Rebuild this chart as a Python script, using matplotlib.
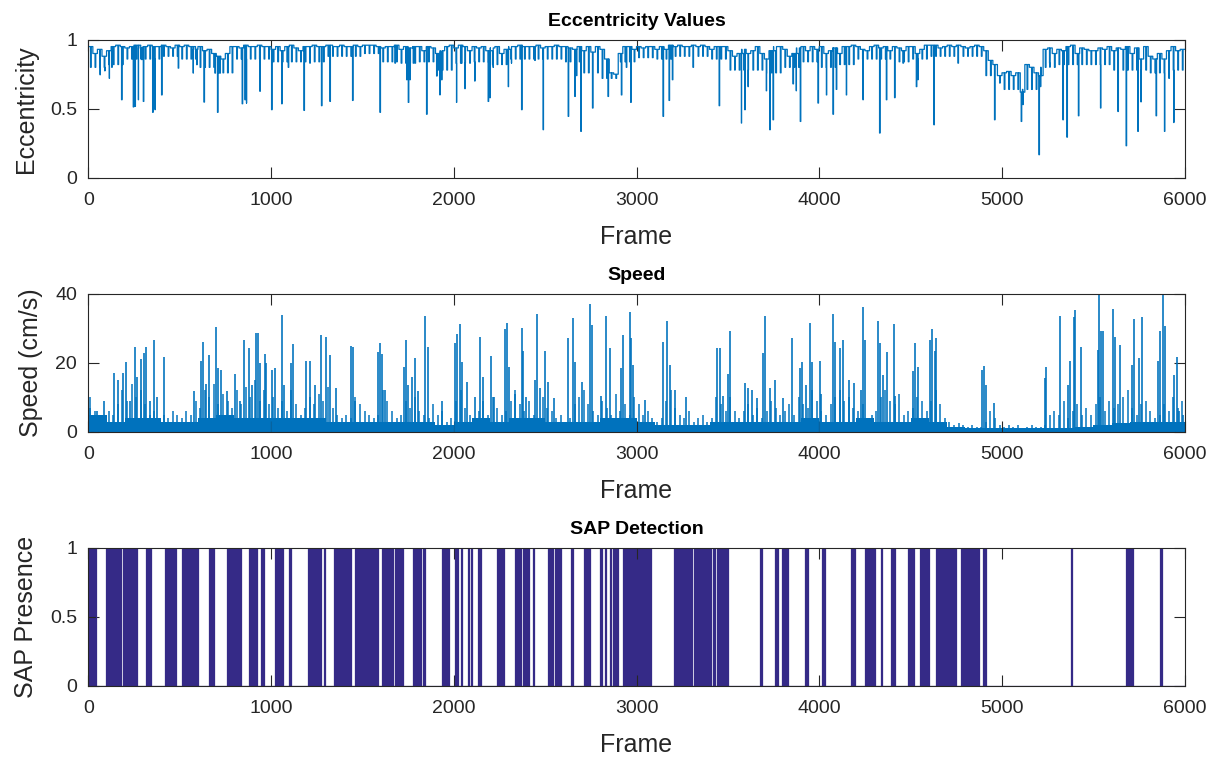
import numpy as np
import matplotlib
matplotlib.use("Agg")
import matplotlib.pyplot as plt

# ---------------- data ----------------
N_FRAMES = 6000

# eccentricity: upper edge of the trace, sampled every 25 frames
ecc_step = 25
ecc_level = [
    0.95, 0.90, 0.93, 0.88, 0.92, 0.95, 0.96, 0.95, 0.94, 0.95, 0.96, 0.94, 0.95, 0.96, 0.95, 0.95, 0.96, 0.95, 0.94, 0.96,
    0.95, 0.96, 0.95, 0.93, 0.95, 0.92, 0.93, 0.90, 0.88, 0.86, 0.90, 0.95, 0.95, 0.94, 0.96, 0.95, 0.95, 0.96, 0.95, 0.95,
    0.93, 0.95, 0.92, 0.95, 0.96, 0.94, 0.92, 0.95, 0.95, 0.96, 0.95, 0.95, 0.96, 0.95, 0.95, 0.96, 0.95, 0.95, 0.96, 0.95,
    0.96, 0.96, 0.96, 0.95, 0.94, 0.95, 0.95, 0.96, 0.93, 0.95, 0.94, 0.95, 0.95, 0.92, 0.95, 0.94, 0.90, 0.92, 0.95, 0.96,
    0.94, 0.96, 0.95, 0.92, 0.95, 0.94, 0.95, 0.92, 0.94, 0.95, 0.90, 0.93, 0.95, 0.95, 0.96, 0.95, 0.95, 0.95, 0.96, 0.94,
    0.95, 0.95, 0.96, 0.95, 0.95, 0.94, 0.93, 0.95, 0.92, 0.95, 0.91, 0.95, 0.93, 0.86, 0.76, 0.75, 0.90, 0.95, 0.95, 0.93,
    0.95, 0.94, 0.95, 0.95, 0.93, 0.95, 0.93, 0.96, 0.95, 0.96, 0.95, 0.95, 0.96, 0.95, 0.96, 0.95, 0.93, 0.95, 0.95, 0.95,
    0.92, 0.88, 0.90, 0.93, 0.90, 0.92, 0.95, 0.90, 0.86, 0.92, 0.95, 0.95, 0.93, 0.88, 0.90, 0.94, 0.95, 0.92, 0.95, 0.93,
    0.95, 0.90, 0.92, 0.94, 0.90, 0.95, 0.95, 0.96, 0.95, 0.93, 0.92, 0.95, 0.96, 0.94, 0.95, 0.92, 0.95, 0.94, 0.92, 0.95,
    0.95, 0.90, 0.93, 0.96, 0.96, 0.96, 0.94, 0.95, 0.96, 0.95, 0.96, 0.95, 0.94, 0.95, 0.96, 0.95, 0.92, 0.85, 0.82, 0.74,
    0.76, 0.77, 0.74, 0.76, 0.62, 0.82, 0.80, 0.76, 0.74, 0.93, 0.94, 0.90, 0.93, 0.92, 0.95, 0.96, 0.90, 0.94, 0.93, 0.92,
    0.92, 0.94, 0.93, 0.95, 0.92, 0.94, 0.93, 0.95, 0.90, 0.94, 0.86, 0.95, 0.88, 0.86, 0.90, 0.86, 0.92, 0.95, 0.92, 0.93,
]

# eccentricity: lower edge of the dense band, one value per 100 frames
ecc_band_step = 100
ecc_band_low = [
    0.80, 0.82, 0.86, 0.86, 0.88, 0.86, 0.80, 0.76, 0.86, 0.86,
    0.84, 0.84, 0.84, 0.88, 0.88, 0.90, 0.84, 0.83, 0.84, 0.78,
    0.83, 0.84, 0.82, 0.86, 0.86, 0.86, 0.84, 0.76, 0.72, 0.84,
    0.87, 0.86, 0.88, 0.88, 0.86, 0.78, 0.78, 0.76, 0.80, 0.84,
    0.80, 0.82, 0.86, 0.86, 0.84, 0.86, 0.88, 0.88, 0.88, 0.74,
    0.64, 0.64, 0.80, 0.82, 0.82, 0.82, 0.78, 0.78, 0.76, 0.78,
]

# eccentricity: short drops (frame, value)
ecc_dip_frames = [
    64, 91, 115, 128, 182, 246, 255, 274, 292, 301, 352, 365, 401, 492, 574, 593, 633, 693, 707, 720,
    842, 857, 866, 939, 1003, 1058, 1094, 1180, 1212, 1276, 1322, 1446,
    1596, 1678, 1742, 1751, 1760, 1778, 1851, 1906, 1924, 1933, 2015, 2042, 2061, 2115, 2188, 2197, 2216,
    2298, 2316, 2371, 2443, 2489, 2626, 2662, 2671, 2695, 2759, 2844, 2917, 2944, 2968,
    3145, 3178, 3196, 3309, 3452, 3537, 3574, 3592, 3610, 3710, 3729, 3747, 3856, 3874, 3896, 3993,
    4039, 4075, 4093, 4148, 4239, 4330, 4367, 4412, 4458,
    4531, 4540, 4627, 4759, 4959, 4987, 5105, 5114, 5202, 5211, 5260, 5333, 5355, 5418, 5539, 5634,
    5679, 5743, 5760, 5843, 5889, 5913, 5940,
]
ecc_dip_values = [
    0.746, 0.775, 0.72, 0.80, 0.565, 0.513, 0.517, 0.565, 0.856, 0.553, 0.474, 0.493, 0.60, 0.794, 0.758, 0.819, 0.548, 0.758, 0.474, 0.758,
    0.536, 0.565, 0.541, 0.626, 0.493, 0.536, 0.80, 0.488, 0.83, 0.522, 0.553, 0.56,
    0.474, 0.83, 0.71, 0.546, 0.71, 0.83, 0.46, 0.737, 0.60, 0.71, 0.546, 0.83, 0.645, 0.70, 0.553, 0.58, 0.80,
    0.66, 0.83, 0.493, 0.85, 0.348, 0.445, 0.589, 0.74, 0.336, 0.505, 0.589, 0.60, 0.80, 0.546,
    0.445, 0.56, 0.71, 0.80, 0.522, 0.78, 0.396, 0.493, 0.66, 0.63, 0.348, 0.42, 0.68, 0.63, 0.408, 0.541,
    0.60, 0.46, 0.64, 0.60, 0.565, 0.324, 0.565, 0.58, 0.83,
    0.66, 0.71, 0.384, 0.83, 0.42, 0.686, 0.408, 0.53, 0.167, 0.66, 0.83, 0.42, 0.294, 0.449, 0.505, 0.48,
    0.232, 0.336, 0.55, 0.449, 0.336, 0.72, 0.40,
]

# speed: typical local peak height, sampled every 25 frames (cm/s)
speed_step = 25
speed_level = [
    10, 6, 5, 4, 6, 5, 8, 12, 9, 14, 10, 12, 8, 5, 6, 4, 5, 4, 6, 5,
    4, 6, 5, 9, 7, 12, 10, 14, 8, 11, 9, 7, 12, 8, 13, 10, 15, 9, 12, 8,
    10, 7, 9, 6, 12, 8, 5, 7, 10, 8, 11, 9, 13, 7, 5, 4, 5, 4, 10, 8,
    6, 5, 4, 5, 12, 9, 6, 4, 5, 9, 7, 10, 6, 5, 4, 8, 5, 6, 3, 4,
    9, 12, 7, 5, 4, 6, 9, 5, 10, 7, 5, 6, 9, 12, 8, 6, 9, 5, 4, 10,
    7, 6, 4, 5, 3, 4, 8, 10, 12, 8, 6, 5, 9, 7, 5, 11, 6, 8, 5, 10,
    8, 5, 6, 4, 3, 4, 9, 12, 7, 5, 4, 6, 3, 4, 5, 3, 4, 10, 8, 6,
    10, 6, 4, 6, 8, 5, 7, 4, 6, 9, 7, 5, 6, 8, 5, 10, 8, 7, 12, 9,
    6, 5, 8, 10, 12, 9, 10, 7, 6, 8, 4, 5, 6, 10, 12, 9, 8, 11, 5, 6,
    7, 10, 9, 6, 9, 12, 8, 4, 3, 2, 2.5, 2, 1.5, 2, 1.5, 1.5, 3, 6, 4, 2,
    1.5, 2, 1.5, 2, 1, 1.5, 2, 1.5, 1.5, 2, 5, 6, 5, 9, 4, 6, 8, 5, 7, 5,
    8, 10, 6, 9, 7, 8, 10, 12, 7, 5, 8, 9, 6, 4, 5, 8, 6, 10, 7, 9,
]

# speed: height below which the trace is solid, one value per 100 frames
speed_band_step = 100
speed_band = [
    5, 3, 4, 4, 3, 3, 4, 5, 4, 4, 4, 4, 4, 3, 3,
    3, 3, 3, 3, 2, 3, 4, 3, 4, 4, 3, 3, 3, 4, 4,
    3, 2, 2, 2, 3, 3, 3, 3, 3, 4, 3, 3, 4, 3, 3,
    4, 3, 1.5, 1.2, 1, 1, 1, 1, 1.2, 1.5, 2, 2.5, 3, 3, 3,
]

# speed: bursts (frame, value in cm/s)
speed_peak_frames = [
    0, 9, 46, 86, 142, 164, 188, 206, 228, 255, 268, 286, 305, 314, 337, 359, 377, 416, 580, 615,
    626, 644, 662, 698, 711, 729, 757, 802, 830, 851, 881, 897, 917, 930, 939, 966, 975, 1006, 1021, 1058,
    1070, 1107, 1118, 1190, 1212, 1240, 1271, 1300, 1322, 1354, 1440, 1449,
    1459, 1587, 1596, 1609, 1623, 1729, 1736, 1747, 1769, 1787, 1805, 1845, 1860, 1938, 2006, 2015, 2033, 2046,
    2070, 2115, 2146, 2161, 2203, 2221, 2279, 2290, 2303, 2334, 2371, 2380, 2398, 2443, 2458, 2471, 2498, 2516,
    2549, 2626, 2650, 2666, 2699, 2744, 2757, 2804, 2835, 2853, 2917, 2926, 2963, 2972, 2981,
    3045, 3145, 3167, 3182, 3209, 3273, 3441, 3455, 3473, 3501, 3510, 3592, 3610, 3632, 3661, 3692, 3701, 3729,
    3756, 3802, 3853, 3896, 3907, 3926, 3947, 3962, 4002, 4011, 4075, 4084, 4115, 4130, 4163, 4188, 4230, 4239,
    4248, 4321, 4330, 4349, 4370, 4407, 4416,
    4513, 4522, 4540, 4604, 4616, 4631, 4640, 4890, 4901, 4910, 4956, 5233, 5242, 5315, 5360, 5373, 5393, 5402,
    5430, 5524, 5533, 5542, 5555, 5606, 5619, 5648, 5710, 5721, 5752, 5765, 5852, 5867, 5883, 5893, 5943, 5958,
    5971, 5989,
]
speed_peak_values = [
    12.2, 6.8, 5.9, 8.8, 17, 15, 17, 20.2, 8.8, 24.7, 16, 21.1, 22.8, 24.7, 8.8, 26.6, 10, 21.6, 11.7, 20.6,
    26, 14, 22.3, 30.5, 18.4, 18, 11.7, 16.9, 8.8, 26.6, 24.3, 13.6, 28.6, 28.6, 19.9, 22.5, 20, 18, 18.4, 33.9,
    13.6, 19.9, 25.4, 20.6, 20.6, 13.6, 28.1, 27.6, 22.3, 12.7, 25, 24.7,
    8.8, 23, 25.8, 22.5, 12, 18.9, 26.6, 13.6, 16, 21.4, 11.7, 33.6, 24.7, 8.8, 25.8, 28.4, 31.2, 20.3,
    14.5, 10, 27.6, 16, 22, 10, 29.8, 31.4, 18.9, 11, 30.2, 23.4, 10, 15.1, 34.1, 12.7, 23.4, 14.5,
    9.7, 27.3, 33.1, 20.3, 14.5, 37.1, 31, 10.3, 33.7, 24.2, 18.6, 28.1, 34.7, 27.1, 19.4,
    9.2, 26, 32.2, 19.4, 12, 10, 24.2, 24.2, 10.3, 16.9, 29.1, 14.1, 12.7, 12, 9.7, 22.8, 33.7, 12.7,
    15.1, 9.7, 27.1, 18.4, 20.2, 13.6, 31.4, 20.3, 20.6, 11, 34.1, 26.1, 24.2, 26.6, 15.1, 14.1, 12, 36.1,
    26.6, 32.2, 25.8, 16.4, 23, 31.2, 10.3,
    17.7, 25.8, 18.7, 26.6, 29.8, 23.4, 27.1, 18, 19.2, 13.6, 8.5, 15.6, 18.7, 33.7, 13.6, 20.6, 33.2, 35.4,
    24.7, 23.7, 41, 29.1, 29.1, 35.6, 27.6, 25.3, 19.4, 32.7, 21.4, 33.4, 20.6, 29.1, 41, 30.7, 16.4, 21.6,
    6, 5,
]

# SAP detection: frame ranges where SAP is present
sap_starts = [
    0, 97, 115, 188, 261, 314, 419, 511, 660, 757, 879, 943, 1021, 1099, 1203, 1291, 1344, 1459,
    1605, 1681, 1778, 1833, 1937, 2006, 2042, 2079, 2097, 2134, 2234, 2334, 2380, 2398, 2434, 2516,
    2553, 2640, 2713, 2799, 2826, 2853, 2872, 2890, 2927, 2972, 2981,
    3205, 3315, 3419, 3441, 3678, 3760, 3798, 3924, 4017, 4175, 4252, 4336, 4394, 4485,
    4549, 4640, 4773, 4895, 5379, 5679, 5862,
]
sap_ends = [
    42, 111, 177, 255, 268, 343, 478, 602, 688, 835, 921, 961, 1063, 1112, 1276, 1296, 1440, 1587,
    1669, 1723, 1820, 1845, 1973, 2024, 2045, 2082, 2100, 2148, 2274, 2367, 2389, 2411, 2437, 2544,
    2586, 2655, 2744, 2812, 2835, 2859, 2881, 2899, 2963, 2975, 3078,
    3306, 3410, 3428, 3501, 3689, 3774, 3829, 3938, 4029, 4194, 4306, 4345, 4412, 4521,
    4598, 4750, 4872, 4914, 5383, 5716, 5876,
]


# ---------------- build drawable series ----------------
def ecc_series():
    # each sample holds its level; band lows and drops appear as brief notches
    pts = []
    for i, v in enumerate(ecc_level):
        f = i * ecc_step
        pts.append((f, v, 0))
        pts.append((f + ecc_step // 2, ecc_band_low[f // ecc_band_step], 1))
        pts.append((f + ecc_step // 2 + 4, v, 2))
    for f, v in zip(ecc_dip_frames, ecc_dip_values):
        back = ecc_level[min(f // ecc_step, len(ecc_level) - 1)]
        pts.append((f, v, 1))
        pts.append((f + 3, back, 2))
    pts.append((N_FRAMES, ecc_level[-1], 0))
    pts.sort(key=lambda p: (p[0], p[2]))
    return np.array([p[0] for p in pts]), np.array([p[1] for p in pts])


def sap_series():
    xs, ys = [0], [0]
    for s, e in zip(sap_starts, sap_ends):
        xs += [s, s, e, e]
        ys += [0, 1, 1, 0]
    xs.append(N_FRAMES)
    ys.append(0)
    return np.array(xs, float), np.array(ys, float)


# ---------------- drawing ----------------
plt.rcParams["font.family"] = ["Liberation Sans", "DejaVu Sans"]
TXT = "#262626"
BLUE = "#0072BD"
NAVY = "#352A87"
LW = 0.9

fig = plt.figure(figsize=(12.21, 7.63), dpi=100)
L, W, H = 0.0723, 0.898, 0.181
axes = [fig.add_axes([L, b, W, H]) for b in (0.767, 0.434, 0.101)]


def style(ax, yticks, yticklabels, ylim, title, ylabel):
    ax.set_xlim(0, N_FRAMES)
    ax.set_ylim(*ylim)
    ax.set_xticks(range(0, 6001, 1000))
    ax.set_yticks(yticks)
    ax.set_yticklabels(yticklabels)
    ax.tick_params(direction="in", top=True, right=True, length=8, width=0.8,
                   color=TXT, labelcolor=TXT, labelsize=14)
    ax.tick_params(axis="x", pad=10)
    ax.tick_params(axis="y", pad=8)
    for s in ax.spines.values():
        s.set_color(TXT)
        s.set_linewidth(0.8)
        s.set_zorder(5)
    ax.set_title(title, fontsize=14, fontweight="bold", color="black", pad=10)
    ax.set_xlabel("Frame", fontsize=18, color=TXT, labelpad=12)
    ax.set_ylabel(ylabel, fontsize=18, color=TXT, labelpad=9)


# eccentricity
ax = axes[0]
x, y = ecc_series()
ax.plot(x, y, color=BLUE, lw=LW, drawstyle="steps-post")
style(ax, [0, 0.5, 1], ["0", "0.5", "1"], (0, 1), "Eccentricity Values", "Eccentricity")

# speed
ax = axes[1]
band_x = np.arange(len(speed_band) + 1) * speed_band_step
ax.fill_between(band_x, 0, list(speed_band) + [speed_band[-1]], step="post", color=BLUE, lw=0)
level_x = np.arange(len(speed_level)) * speed_step + speed_step // 2
ax.vlines(level_x, 0, speed_level, color=BLUE, lw=LW * 1.2)
ax.vlines(speed_peak_frames, 0, speed_peak_values, color=BLUE, lw=LW * 1.3)
style(ax, [0, 20, 40], ["0", "20", "40"], (0, 40), "Speed", "Speed (cm/s)")

# SAP detection
ax = axes[2]
x, y = sap_series()
ax.fill_between(x, 0, y, color=NAVY, lw=0)
ax.plot(x, y, color=NAVY, lw=LW)
style(ax, [0, 0.5, 1], ["0", "0.5", "1"], (0, 1), "SAP Detection", "SAP Presence")

fig.savefig("out.png", dpi=100)
